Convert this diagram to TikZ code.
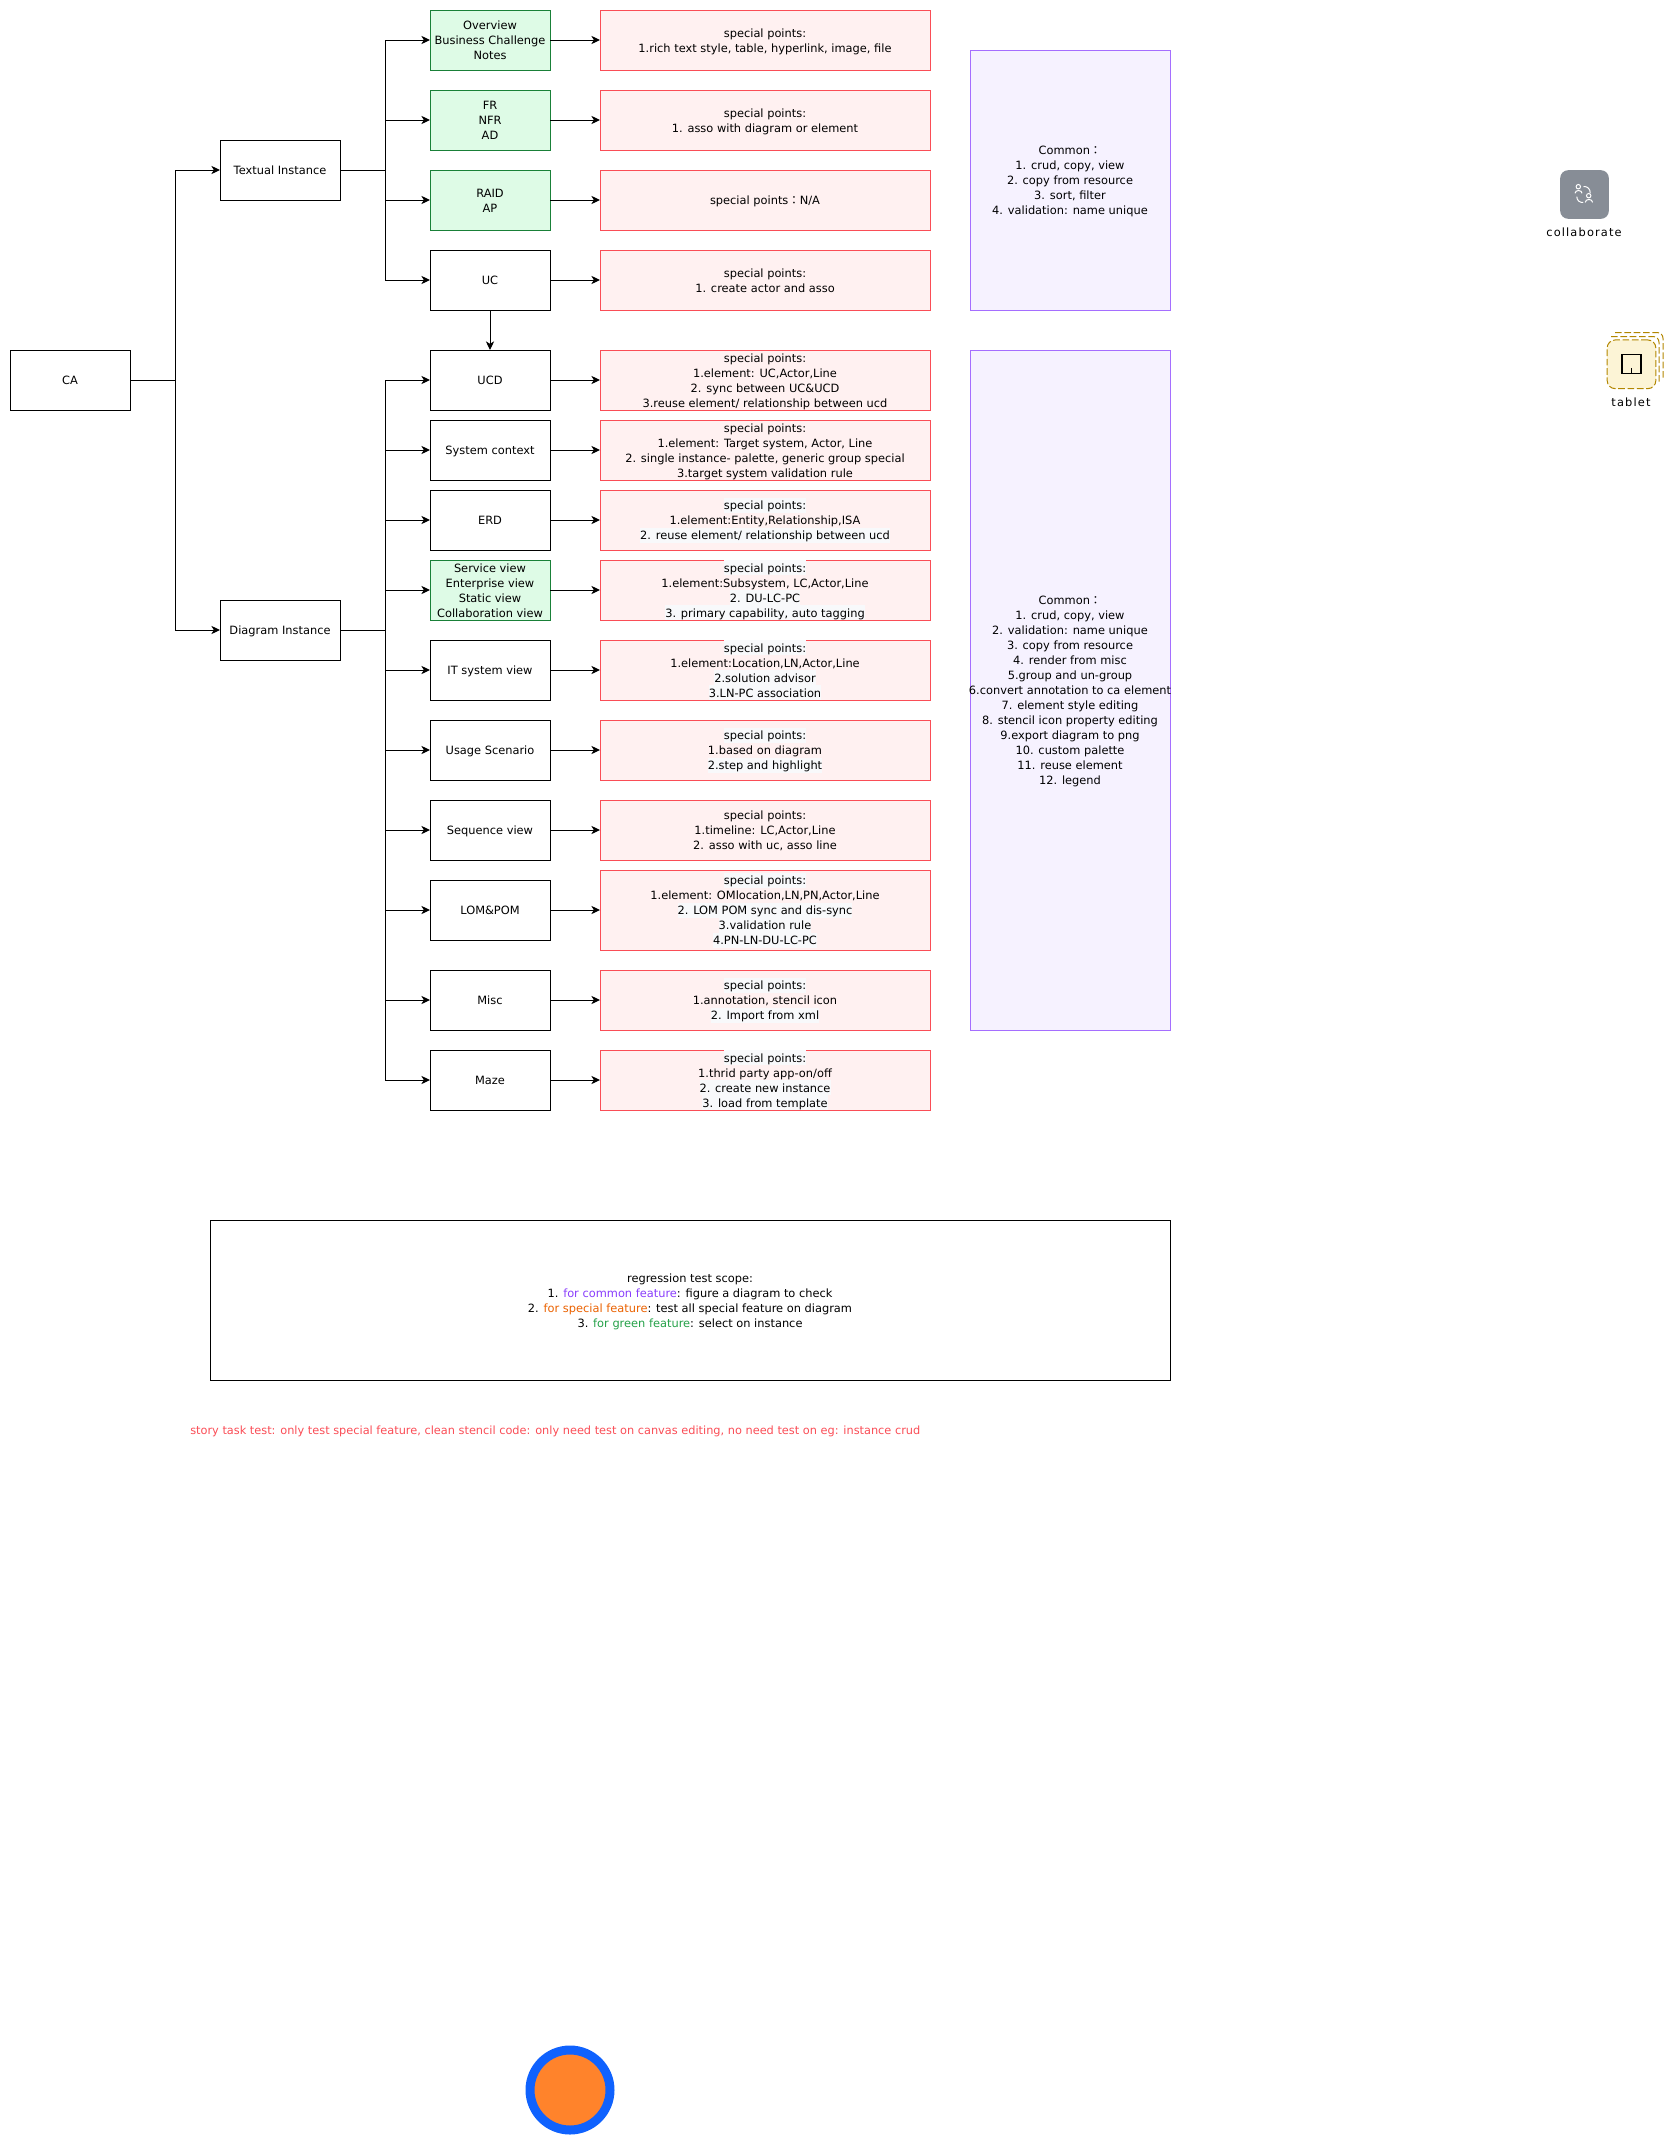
\documentclass[tikz,border=0pt]{standalone}
\usepackage{fontspec}
\setmainfont{DejaVu Sans}
\newfontfamily\cjkfont{Noto Sans CJK TC}
\usetikzlibrary{arrows.meta}
\definecolor{redS}{HTML}{FA4D56}\definecolor{redF}{HTML}{FFF1F1}
\definecolor{grnS}{HTML}{198038}\definecolor{grnF}{HTML}{DEFBE6}
\definecolor{purS}{HTML}{A56EFF}\definecolor{purF}{HTML}{F6F2FF}
\definecolor{hlc}{HTML}{F8F9FB}
\definecolor{ctPur}{HTML}{8A3FFC}\definecolor{ctOra}{HTML}{EB6200}\definecolor{ctGrn}{HTML}{24A148}
\definecolor{iconG}{HTML}{878D96}\definecolor{tabF}{HTML}{FCF4D6}\definecolor{tabS}{HTML}{B28600}
\definecolor{cirB}{HTML}{0F62FE}\definecolor{cirO}{HTML}{FF832B}
\newcommand\lnstrut{\rule[-1.9pt]{0pt}{11.25pt}}
\newcommand\tl[1]{\lnstrut #1}
\newcommand\hl[1]{{\setlength\fboxsep{0pt}\colorbox{hlc}{\lnstrut #1}}}
\newcommand\fwc{{\cjkfont ：}}
\tikzset{
 base/.style={draw,line width=.75pt,inner sep=0pt,outer sep=0pt,align=center,font=\fontsize{8.55}{11.25}\selectfont},
 bbox/.style={base,draw=black,fill=white,minimum width=90pt,minimum height=45pt},
 gbox/.style={base,draw=grnS,fill=grnF,minimum width=90pt,minimum height=45pt},
 rbox/.style={base,draw=redS,fill=redF,minimum width=247.5pt,minimum height=45pt},
 pbox/.style={base,draw=purS,fill=purF,minimum width=150pt},
 arr/.style={draw=black,line width=.75pt,-{Stealth[length=6.5pt,width=6.2pt,inset=1.9pt]}},
 lnk/.style={draw=black,line width=.75pt},
 ilbl/.style={inner sep=0pt,font=\fontsize{8.55}{11.25}\selectfont\addfontfeature{LetterSpace=10}},
 tabdash/.style={draw=tabS,line width=.75pt,dash pattern=on 5pt off 2pt},
}
\begin{document}
\begin{tikzpicture}[x=0.75pt,y=-0.75pt]
\useasboundingbox (0,0) rectangle (1666,2145);
% first columns
\node[bbox] (ca) at (70,380) {\tl{CA}};
\node[bbox] (ti) at (280,170) {\tl{Textual Instance}};
\node[bbox] (di) at (280,630) {\tl{Diagram Instance}};
\coordinate (busA) at (175,380);
\coordinate (busB) at (385,170);
\coordinate (busC) at (385,630);
% textual row
\node[gbox] (ov) at (490,40) {\tl{Overview}\\\tl{Business Challenge}\\\tl{Notes}};
\node[gbox] (fr) at (490,120) {\tl{FR}\\\tl{NFR}\\\tl{AD}};
\node[gbox] (ra) at (490,200) {\tl{RAID}\\\tl{AP}};
\node[bbox] (uc) at (490,280) {\tl{UC}};
\node[rbox] (rov) at (765,40) {\tl{special points:}\\\tl{1.rich text style, table, hyperlink, image, file}};
\node[rbox] (rfr) at (765,120) {\tl{special points:}\\\tl{1. asso with diagram or element}};
\node[rbox] (rra) at (765,200) {\tl{special points\fwc N/A}};
\node[rbox] (ruc) at (765,280) {\tl{special points:}\\\tl{1. create actor and asso}};
% diagram rows
\node[bbox] (ucd) at (490,380) {\tl{UCD}};
\node[bbox] (sc) at (490,450) {\tl{System context}};
\node[bbox] (erd) at (490,520) {\tl{ERD}};
\node[gbox] (sv) at (490,590) {\tl{Service view}\\\tl{Enterprise view}\\\tl{Static view}\\\tl{Collaboration view}};
\node[bbox] (it) at (490,670) {\tl{IT system view}};
\node[bbox] (us) at (490,750) {\tl{Usage Scenario}};
\node[bbox] (sq) at (490,830) {\tl{Sequence view}};
\node[bbox] (lom) at (490,910) {\tl{LOM\&POM}};
\node[bbox] (mi) at (490,1000) {\tl{Misc}};
\node[bbox] (mz) at (490,1080) {\tl{Maze}};
\node[rbox] (rucd) at (765,380) {\tl{special points:}\\\tl{1.element: UC,Actor,Line}\\\tl{2. sync between UC\&UCD}\\\tl{3.reuse element/ relationship between ucd}};
\node[rbox] (rsc) at (765,450) {\tl{special points:}\\\tl{1.element: Target system, Actor, Line}\\\tl{2. single instance- palette, generic group special}\\\tl{3.target system validation rule}};
\node[rbox] (rerd) at (765,520) {\hl{special points:}\\\tl{1.element:Entity,Relationship,ISA}\\\hl{2. reuse element/ relationship between ucd}};
\node[rbox] (rsv) at (765,590) {\hl{special points:}\\\tl{1.element:Subsystem, LC,Actor,Line}\\\hl{2. DU-LC-PC}\\\hl{3. primary capability, auto tagging}};
\node[rbox] (rit) at (765,670) {\hl{special points:}\\\tl{1.element:Location,LN,Actor,Line}\\\hl{2.solution advisor}\\\hl{3.LN-PC association}};
\node[rbox] (rus) at (765,750) {\hl{special points:}\\\tl{1.based on diagram}\\\hl{2.step and highlight}};
\node[rbox] (rsq) at (765,830) {\tl{special points:}\\\tl{1.timeline: LC,Actor,Line}\\\tl{2. asso with uc, asso line}};
\node[rbox,minimum height=60pt] (rlom) at (765,910) {\hl{special points:}\\\tl{1.element: OMlocation,LN,PN,Actor,Line}\\\hl{2. LOM POM sync and dis-sync}\\\hl{3.validation rule}\\\hl{4.PN-LN-DU-LC-PC}};
\node[rbox] (rmi) at (765,1000) {\hl{special points:}\\\tl{1.annotation, stencil icon}\\\hl{2. Import from xml}};
\node[rbox] (rmz) at (765,1080) {\hl{special points:}\\\tl{1.thrid party app-on/off}\\\hl{2. create new instance}\\\hl{3. load from template}};
% common boxes
\node[pbox,minimum height=195pt] (c1) at (1070,180) {\tl{Common\fwc}\\\tl{1. crud, copy, view}\\\tl{2. copy from resource}\\\tl{3. sort, filter}\\\tl{4. validation: name unique}};
\node[pbox,minimum height=510pt] (c2) at (1070,690) {\tl{Common\fwc}\\\tl{1. crud, copy, view}\\\tl{2. validation: name unique}\\\tl{3. copy from resource}\\\tl{4. render from misc}\\\tl{5.group and un-group}\\\makebox[149pt][c]{\tl{6.convert annotation to ca element}}\\\tl{7. element style editing}\\\tl{8. stencil icon property editing}\\\tl{9.export diagram to png}\\\tl{10. custom palette}\\\tl{11. reuse element}\\\tl{12. legend}};
% connectors
\draw[lnk] (ca.east) -- (busA);
\draw[arr] (busA) |- (ti.west);
\draw[arr] (busA) |- (di.west);
\draw[lnk] (ti.east) -- (busB);
\foreach \t in {ov,fr,ra,uc} \draw[arr] (busB) |- (\t.west);
\draw[lnk] (di.east) -- (busC);
\foreach \t in {ucd,sc,erd,sv,it,us,sq,lom,mi,mz} \draw[arr] (busC) |- (\t.west);
\draw[arr] (uc.south) -- (ucd.north);
\foreach \a/\b in {ov/rov,fr/rfr,ra/rra,uc/ruc,ucd/rucd,sc/rsc,erd/rerd,sv/rsv,it/rit,us/rus,sq/rsq,lom/rlom,mi/rmi,mz/rmz}
  \draw[arr] (\a.east) -- (\b.west);
% regression note
\node[base,draw=black,fill=white,minimum width=720pt,minimum height=120pt] (reg) at (690,1300) {\tl{regression test scope:}\\\tl{1. \textcolor{ctPur}{for common feature}: figure a diagram to check}\\\tl{2. \textcolor{ctOra}{for special feature}: test all special feature on diagram}\\\tl{3. \textcolor{ctGrn}{for green feature}: select on instance}};
\node[inner sep=0pt,anchor=west,text=redS,font=\fontsize{8.5}{11.25}\selectfont] (story) at (190,1431) {story task test: only test special feature, clean stencil code: only need test on canvas editing, no need test on eg: instance crud};
% collaborate icon
\node[fill=iconG,rounded corners=6pt,minimum width=36.5pt,minimum height=36.5pt,inner sep=0pt] (collab) at (1584.5,194.5) {};
\begin{scope}[draw=white,line width=.75pt]
 \draw (1578.3,186.7) circle[radius=2.2];
 \draw (1575,193.3) .. controls (1575,189.6) and (1582,189.6) .. (1582,193.3);
 \draw (1588.7,195.7) circle[radius=2.2];
 \draw (1585.2,202.4) .. controls (1585.2,198.5) and (1592.6,198.5) .. (1592.6,202.4);
 \draw (1583.5,186.5) .. controls (1587.5,186.2) and (1590.3,189) .. (1590.2,193);
 \draw (1576.8,196.6) .. controls (1576.8,200.3) and (1579.5,202.7) .. (1583.2,202.5);
\end{scope}
\node[ilbl] (collabT) at (1584,232) {collaborate};
% tablet icon
\draw[tabdash] (1615,332.5) -- (1657,332.5) .. controls (1660.5,332.5) and (1663,335) .. (1663,338.5) -- (1663,378);
\draw[tabdash] (1611,336.5) -- (1653,336.5) .. controls (1656.5,336.5) and (1659,339) .. (1659,342.5) -- (1659,382);
\node[fill=tabF,tabdash,rounded corners=6pt,minimum width=36.5pt,minimum height=36.5pt,inner sep=0pt] (tablet) at (1631.5,364.3) {};
\draw[black,line width=1pt] (1622,354.5) rectangle (1641,373.2);
\draw[black,line width=1.2pt] (1631.5,373) -- (1631.5,368);
\node[ilbl] (tabletT) at (1631,402) {tablet};
% circle
\node[circle,draw=cirB,fill=cirO,line width=6.75pt,minimum size=60pt,inner sep=0pt,outer sep=0pt] (dot) at (570,2090) {};
\end{tikzpicture}
\end{document}
